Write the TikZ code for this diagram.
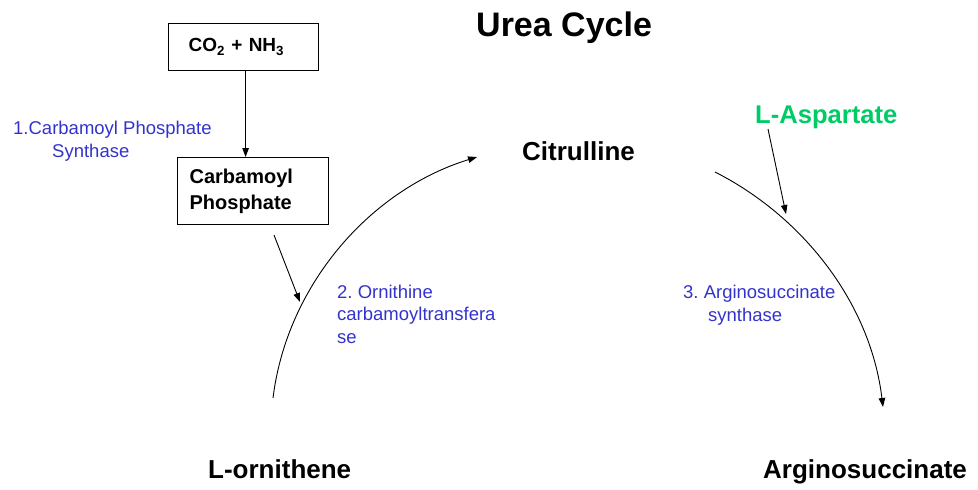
\documentclass[tikz,border=0pt]{standalone}
\usepackage{fontspec}
\setmainfont{Liberation Sans}
\usetikzlibrary{arrows.meta}
\definecolor{enzblue}{RGB}{51,51,204}
\definecolor{aspgreen}{RGB}{0,204,102}
\frenchspacing
\begin{document}
\begin{tikzpicture}[x=1pt,y=-1pt,
  arr/.style={-{Triangle[length=9pt,width=6.5pt]}, line width=0.9pt},
  box/.style={draw, line width=1.2pt, anchor=north west, align=left},
  enz/.style={text=enzblue, font=\fontsize{18.5}{22.5}\selectfont, align=left, inner sep=0pt, anchor=base west},
  met/.style={font=\bfseries\fontsize{26}{30}\selectfont, inner sep=0pt, anchor=base west}]
\useasboundingbox (0,0) rectangle (978,490);

% title
\node[met, font=\bfseries\fontsize{34}{40}\selectfont] (title) at (476,36) {Urea Cycle};

% boxes
\node[box, minimum width=150pt, minimum height=47pt, inner xsep=20pt, text width=110pt,
      font=\bfseries\fontsize{19}{22}\selectfont] (co2) at (168,23) {CO\textsubscript{2} + NH\textsubscript{3}};
\node[box, minimum width=151pt, minimum height=67pt, inner xsep=12pt, text width=127pt,
      font=\bfseries\fontsize{20}{26}\selectfont] (cp) at (177,157) {Carbamoyl\\Phosphate};

% metabolites
\node[met] (cit) at (522,160) {Citrulline};
\node[met, text=aspgreen, font=\bfseries\fontsize{25.6}{30}\selectfont] (asp) at (755,123) {L-Aspartate};
\node[met] (orn) at (208,478) {L-ornithene};
\node[met] (args) at (763,478) {Arginosuccinate};

% enzymes (base anchor = last line baseline)
\node[enz] (e1) at (13,157) {1.Carbamoyl Phosphate\\\hspace*{39pt}Synthase};
\node[enz] (e2) at (337,343) {2. Ornithine\\carbamoyltransfera\\se};
\node[enz] (e3) at (683,321) {3. Arginosuccinate\\\hspace*{25pt}synthase};

% coordinates
\coordinate (cpA) at (274,235);
\coordinate (cpB) at (300,302);
\coordinate (o1) at (273,398);
\coordinate (c1) at (477,157);
\coordinate (c2) at (715,172);
\coordinate (a2) at (883,407);
\coordinate (aspA) at (768,129);
\coordinate (aspB) at (786,214);

% connectors
\draw[arr] ([xshift=2pt]co2.south) -- ([xshift=2pt]co2.south |- cp.north);
\draw[arr] (cpA) -- (cpB);
\draw[arr] (o1) .. controls (287,285) and (370,190) .. (c1);
\draw[arr] (c2) .. controls (800,215) and (870,300) .. (a2);
\draw[arr] (aspA) -- (aspB);
\end{tikzpicture}
\end{document}
